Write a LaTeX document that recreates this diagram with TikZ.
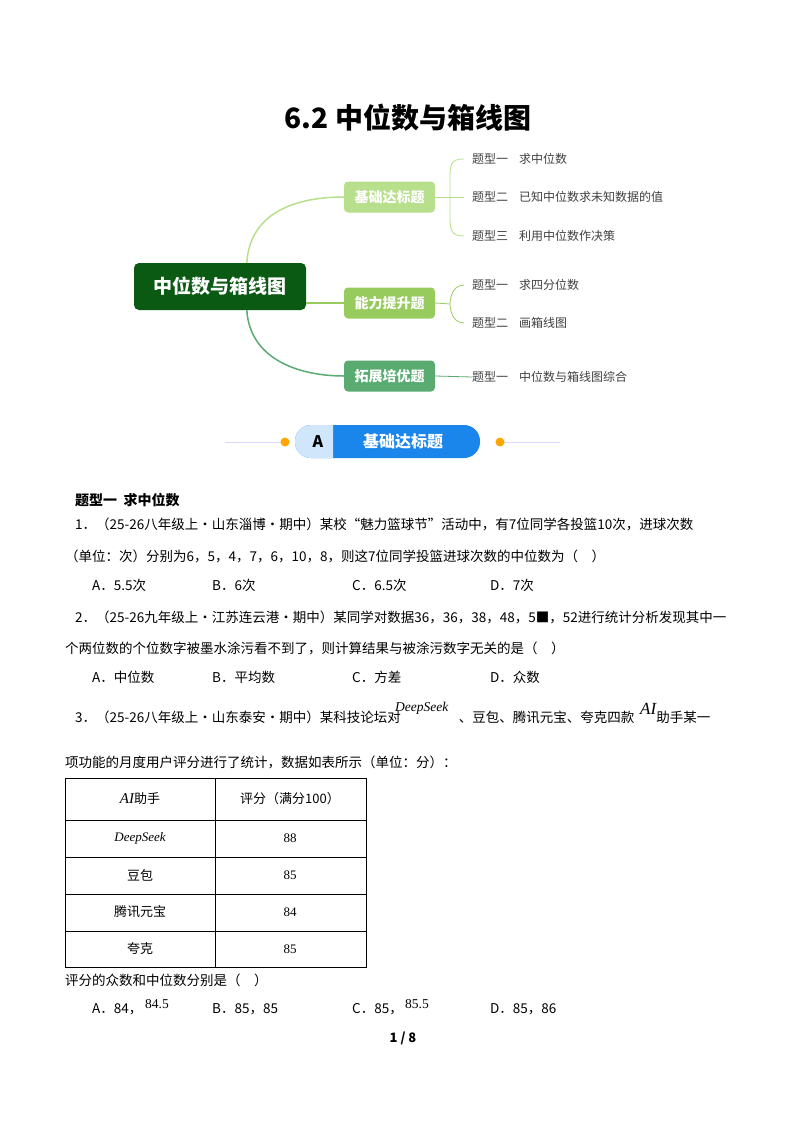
\documentclass[tikz,border=0pt]{standalone}
\usepackage{fontspec}
\usetikzlibrary{calc}
\setmainfont{Noto Sans CJK SC}
\newfontfamily\lat{Liberation Serif}
\begin{document}
\begin{tikzpicture}[x=1pt,y=-1pt,
 body/.style={anchor=base west,inner sep=0pt,font=\fontsize{13.5}{16}\selectfont},
 leaf/.style={anchor=west,inner sep=0pt,text=black!75,font=\fontsize{12}{14}\selectfont},
 br/.style={rounded corners=4pt,minimum width=91pt,minimum height=31pt,text=white,font=\fontsize{14}{16}\selectfont\bfseries},
 tc/.style={inner sep=0pt,font=\fontsize{13}{15}\selectfont}]
\useasboundingbox (0,0) rectangle (800,1132);
\definecolor{g1}{HTML}{B7DF8C}\definecolor{g2}{HTML}{98CB5E}\definecolor{g3}{HTML}{5AAB72}
\definecolor{g0}{HTML}{0B5A14}\definecolor{bb}{HTML}{1A85EA}\definecolor{lb}{HTML}{CFE6FB}
\node (title) at (408,118) {\fontsize{28}{30}\selectfont\bfseries 6.2 中位数与箱线图};
% mind map
\node[fill=g0,rounded corners=5pt,minimum width=172pt,minimum height=47pt,text=white,font=\fontsize{19}{21}\selectfont\bfseries] (root) at (220,286.5) {中位数与箱线图};
\node[br,fill=g1] (b1) at (389.5,197) {基础达标题};
\node[br,fill=g2] (b2) at (389.5,303) {能力提升题};
\node[br,fill=g3] (b3) at (389.5,376) {拓展培优题};
\draw[g1,line width=1.5pt] ($(root.north west)+(113,0)$) .. controls (250,210) and (300,197) .. (b1.west);
\draw[g2,line width=1.5pt] (root.east|-b2) -- (b2.west);
\draw[g3,line width=1.5pt] ($(root.south west)+(113,0)$) .. controls (250,360) and (300,376) .. (b3.west);
\foreach \y/\a/\b [count=\i] in {159/题型一/求中位数,197/题型二/已知中位数求未知数据的值,236/题型三/利用中位数作决策}{
 \node[leaf] (l1\i) at (472,\y) {\a};\node[leaf] at (519,\y) {\b};}
\draw[g1,line width=0.8pt] (b1.east) -- (450,197);
\draw[g1,line width=0.8pt] ($(l11.west)+(-8,0)$) .. controls (450,159) and (450,165) .. (450,180) -- (450,214) .. controls (450,229) and (450,236) .. ($(l13.west)+(-8,0)$);
\draw[g1,line width=0.8pt] (450,197) -- ($(l12.west)+(-8,0)$);
\foreach \y/\a/\b [count=\i] in {285/题型一/求四分位数,323/题型二/画箱线图}{
 \node[leaf] (l2\i) at (472,\y) {\a};\node[leaf] at (519,\y) {\b};}
\draw[g2,line width=0.8pt] (b2.east) -- (450,304);
\draw[g2,line width=0.8pt] ($(l21.west)+(-8,0)$) .. controls (450,285) and (450,304) .. (450,304) .. controls (450,304) and (450,323) .. ($(l22.west)+(-8,0)$);
\node[leaf] (l31) at (472,377) {题型一};\node[leaf] at (519,377) {中位数与箱线图综合};
\draw[g3,line width=0.8pt] (b3.east) -- (l31.west);
% banner
\draw[blue!15,line width=0.6pt] (225,442) -- (285,442) (500,442) -- (560,442);
\fill[orange!70!yellow] (285,442) circle (4.5pt) (500,442) circle (4.5pt);
\fill[bb,rounded corners=16pt] (295,425) rectangle (480,458);
\begin{scope}
\clip (290,420) rectangle (333,462);
\fill[lb,rounded corners=16pt] (295,425) rectangle (480,458);
\end{scope}
\node (bA) at (318,441.5) {\fontsize{16}{18}\selectfont\bfseries A};
\node[text=white] (bT) at (403,441.5) {\fontsize{16}{18}\selectfont\bfseries 基础达标题};
% body
\node[body,font=\fontsize{14}{16}\selectfont\bfseries] (h1) at (75,505) {题型一\ \ 求中位数};
\node[body] (p1) at (75,529) {1．（25-26八年级上·山东淄博·期中）某校“魅力篮球节”活动中，有7位同学各投篮10次，进球次数};
\node[body] (p1b) at (65,561) {（单位：次）分别为6，5，4，7，6，10，8，则这7位同学投篮进球次数的中位数为（\quad ）};
\foreach \x/\t in {92/A．5.5次,212/B．6次,352/C．6.5次,490/D．7次}{\node[body] at (\x,590) {\t};}
\node[body] (p2) at (75,622) {2．（25-26九年级上·江苏连云港·期中）某同学对数据36，36，38，48，5■，52进行统计分析发现其中一};
\node[body] (p2b) at (65,653) {个两位数的个位数字被墨水涂污看不到了，则计算结果与被涂污数字无关的是（\quad ）};
\foreach \x/\t in {92/A．中位数,212/B．平均数,352/C．方差,490/D．众数}{\node[body] at (\x,682) {\t};}
\node[body] (p3) at (75,722) {3．（25-26八年级上·山东泰安·期中）某科技论坛对\hspace{58pt}、豆包、腾讯元宝、夸克四款\hspace{22pt}助手某一};
\node[body] at (395,711) {\lat\itshape DeepSeek};
\node[body] at (640,714) {\lat\itshape\fontsize{17}{18}\selectfont AI};
\node[body] (p3b) at (65,767) {项功能的月度用户评分进行了统计，数据如表所示（单位：分）：};
% table
\draw[line width=0.8pt] (65,778) rectangle (366,967);
\foreach \y in {820,857,894,931}{\draw[line width=0.6pt] (65,\y) -- (366,\y);}
\draw[line width=0.6pt] (215,778) -- (215,967);
\node[tc] (c11) at (140,799) {{\lat\itshape\fontsize{15}{16}\selectfont AI}助手};
\node[tc] (c12) at (290,799) {评分（满分100）};
\node[tc] at (140,838) {\lat\itshape DeepSeek};\node[tc] at (290,838) {\lat 88};
\node[tc] at (140,875) {豆包};\node[tc] at (290,875) {\lat 85};
\node[tc] at (140,912) {腾讯元宝};\node[tc] at (290,912) {\lat 84};
\node[tc] at (140,949) {夸克};\node[tc] at (290,949) {\lat 85};
\node[body] (p4) at (65,985) {评分的众数和中位数分别是（\quad ）};
\node[body] at (92,1013) {A．84，};\node[body] at (145,1008) {\lat 84.5};
\node[body] at (212,1013) {B．85，85};
\node[body] at (352,1013) {C．85，};\node[body] at (405,1008) {\lat 85.5};
\node[body] at (490,1013) {D．85，86};
\node (foot) at (403,1038) {\fontsize{13}{15}\selectfont\bfseries 1 / 8};
\end{tikzpicture}
\end{document}
